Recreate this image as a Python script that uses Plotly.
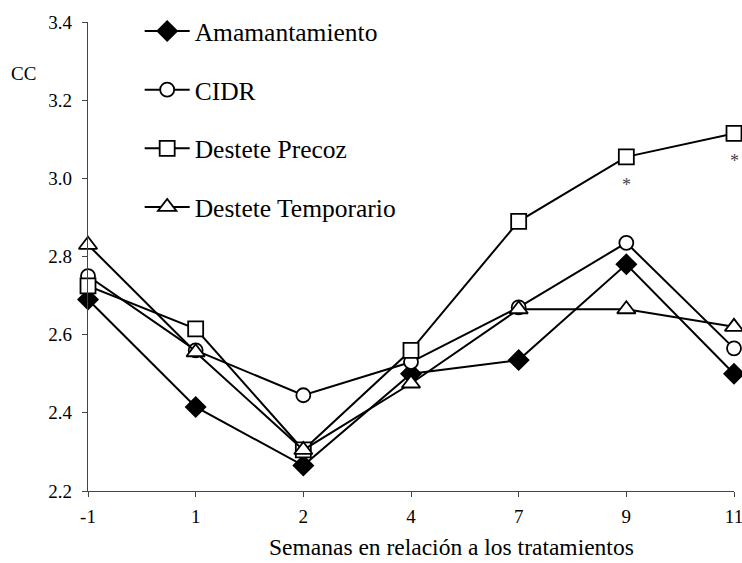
import plotly.graph_objects as go

# Semanas en relación a los tratamientos (ejes categóricos)
semanas = ["-1", "1", "2", "4", "7", "9", "11"]

amamantamiento = [2.69, 2.415, 2.265, 2.50, 2.535, 2.78, 2.50]
cidr = [2.75, 2.56, 2.445, 2.53, 2.67, 2.835, 2.565]
destete_precoz = [2.725, 2.615, 2.305, 2.56, 2.89, 3.055, 3.115]
destete_temporario = [2.83, 2.555, 2.305, 2.475, 2.665, 2.665, 2.62]

# Semanas con diferencia significativa (Destete Precoz)
semanas_signif = ["9", "11"]

y_ticks = [2.2, 2.4, 2.6, 2.8, 3.0, 3.2, 3.4]

FONT = "Liberation Serif, Times New Roman, serif"

series = [
    ("Amamantamiento", amamantamiento, "diamond", "black", 15),
    ("CIDR", cidr, "circle", "white", 14),
    ("Destete Precoz", destete_precoz, "square", "white", 15),
    ("Destete Temporario", destete_temporario, "triangle-up", "white", 16),
]

fig = go.Figure()
for name, vals, symbol, fill, size in series:
    fig.add_trace(go.Scatter(
        x=semanas, y=vals, name=name, legendgroup=name,
        mode="lines+markers",
        line=dict(color="black", width=2),
        marker=dict(symbol=symbol, size=size, color=fill,
                    line=dict(color="black", width=1.8)),
        cliponaxis=False,
    ))

# Asteriscos bajo los puntos de Destete Precoz (x por índice de categoría)
for s in semanas_signif:
    i = semanas.index(s)
    fig.add_annotation(x=i, y=destete_precoz[i], text="*", showarrow=False,
                       yshift=-28, font=dict(family=FONT, size=18, color="#444"))

fig.add_annotation(xref="paper", yref="paper", x=-0.1, y=0.89, text="CC",
                   showarrow=False, xanchor="center", yanchor="middle",
                   font=dict(family=FONT, size=19, color="black"))

fig.add_annotation(xref="paper", yref="paper", x=0.562, y=-0.12,
                   text="Semanas en relación a los tratamientos",
                   showarrow=False, xanchor="center", yanchor="middle",
                   font=dict(family=FONT, size=23.5, color="black"))

fig.update_layout(
    width=742, height=563,
    margin=dict(l=88, r=8, t=20, b=72),
    paper_bgcolor="white", plot_bgcolor="white",
    font=dict(family=FONT, size=19, color="black"),
    legend=dict(x=0.08, y=1.03, xanchor="left", yanchor="top",
                font=dict(family=FONT, size=25.5, color="black"),
                tracegroupgap=22.5, bgcolor="rgba(0,0,0,0)", itemwidth=45),
    xaxis=dict(type="category", range=[0, 6], showgrid=False,
               automargin=False,
               showline=True, linecolor="#444", linewidth=1.2,
               ticks="outside", ticklen=5, tickcolor="#444",
               ticklabelstandoff=3,
               tickfont=dict(family=FONT, size=19)),
    yaxis=dict(range=[2.2, 3.4], tickvals=y_ticks, tickformat=".1f",
               automargin=False,
               showgrid=False, zeroline=False,
               showline=True, linecolor="#444", linewidth=1.2,
               ticks="outside", ticklen=5, tickcolor="#444",
               ticklabelstandoff=6,
               tickfont=dict(family=FONT, size=19)),
)

fig.write_html("out.html")
